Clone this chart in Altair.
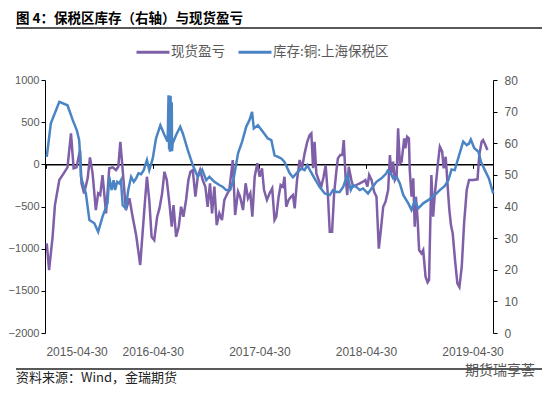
import altair as alt
import pandas as pd

# 库存:铜:上海保税区 (right axis, 万吨)
inv_dates = ["2015-05-03","2015-05-17","2015-06-15","2015-07-13","2015-07-31","2015-08-14","2015-08-22","2015-08-26","2015-08-28","2015-09-14","2015-09-26","2015-10-13","2015-10-26","2015-11-10","2015-11-27","2015-12-03","2015-12-11","2015-12-18","2015-12-23","2015-12-30","2016-01-06","2016-01-12","2016-01-18","2016-01-29","2016-02-06","2016-02-16","2016-02-25","2016-03-04","2016-03-12","2016-03-21","2016-03-30","2016-04-10","2016-04-18","2016-04-30","2016-05-11","2016-05-26","2016-06-09","2016-06-20","2016-06-23","2016-06-25","2016-06-26","2016-06-28","2016-06-30","2016-07-02","2016-07-04","2016-07-05","2016-07-07","2016-07-19","2016-08-02","2016-08-11","2016-08-28","2016-09-14","2016-10-01","2016-10-16","2016-10-30","2016-11-10","2016-11-27","2016-12-14","2016-12-26","2017-01-06","2017-01-20","2017-01-31","2017-02-16","2017-03-02","2017-03-16","2017-03-27","2017-04-05","2017-04-11","2017-04-25","2017-05-12","2017-05-29","2017-06-10","2017-06-21","2017-07-03","2017-07-14","2017-07-25","2017-08-12","2017-08-23","2017-09-09","2017-09-21","2017-10-02","2017-10-11","2017-10-23","2017-11-05","2017-11-22","2017-12-10","2017-12-27","2018-01-07","2018-01-19","2018-01-30","2018-02-11","2018-02-25","2018-03-09","2018-03-17","2018-03-28","2018-04-09","2018-04-20","2018-05-07","2018-05-19","2018-06-05","2018-06-22","2018-07-09","2018-07-13","2018-07-24","2018-08-01","2018-08-13","2018-08-24","2018-09-05","2018-09-22","2018-10-03","2018-10-14","2018-10-26","2018-11-12","2018-11-29","2018-12-22","2019-01-08","2019-01-25","2019-02-06","2019-02-17","2019-02-28","2019-03-14","2019-03-29","2019-04-10","2019-04-18","2019-04-24","2019-05-06","2019-05-20","2019-05-29","2019-06-11","2019-06-25","2019-07-10"]
inv_vals = [55.7,66.3,73.1,72.0,67.3,64.1,61.0,54.7,49.4,44.1,35.7,34.7,32.0,36.8,41.0,49.4,45.2,48.3,45.2,47.8,47.3,48.3,40.4,39.4,45.2,49.4,47.8,48.9,50.5,50.2,51.5,54.7,51.5,55.2,61.5,65.7,62.6,60.5,75.2,58.0,74.5,57.3,75.0,58.0,73.0,57.5,59.9,62.6,65.2,63.1,57.8,53.1,49.4,51.7,48.3,49.4,47.8,46.8,46.2,45.2,45.2,48.3,56.8,60.5,65.2,67.3,69.9,64.7,65.7,63.6,61.5,61.0,56.2,55.7,55.2,54.1,50.5,49.2,51.0,52.0,51.5,53.1,51.0,48.9,46.2,44.1,43.6,45.2,44.6,44.6,46.2,49.9,45.2,46.8,46.2,45.2,45.7,44.1,45.7,47.8,48.9,50.5,51.3,50.5,48.9,49.4,47.3,43.6,41.0,38.9,41.8,39.4,41.0,42.0,43.6,45.2,46.5,48.3,51.7,51.5,55.9,60.5,59.4,59.9,61.2,58.4,57.3,54.1,51.5,48.9,44.1]

# 现货盈亏 (left axis)
pnl_dates = ["2015-05-03","2015-05-11","2015-05-23","2015-05-31","2015-06-15","2015-06-30","2015-07-13","2015-07-25","2015-08-03","2015-08-13","2015-08-25","2015-08-30","2015-09-08","2015-09-20","2015-09-28","2015-10-07","2015-10-18","2015-10-26","2015-11-02","2015-11-10","2015-11-22","2015-12-03","2015-12-15","2015-12-26","2016-01-03","2016-01-10","2016-01-18","2016-01-29","2016-02-10","2016-02-21","2016-03-04","2016-03-18","2016-04-01","2016-04-10","2016-04-18","2016-04-26","2016-05-05","2016-05-15","2016-05-23","2016-06-01","2016-06-09","2016-06-17","2016-06-26","2016-07-04","2016-07-10","2016-07-19","2016-07-28","2016-08-05","2016-08-13","2016-08-22","2016-08-30","2016-09-06","2016-09-14","2016-09-23","2016-10-01","2016-10-09","2016-10-18","2016-10-27","2016-11-04","2016-11-12","2016-11-19","2016-11-27","2016-12-05","2016-12-14","2016-12-23","2016-12-31","2017-01-08","2017-01-17","2017-01-29","2017-02-06","2017-02-16","2017-02-23","2017-03-05","2017-03-14","2017-03-22","2017-03-30","2017-04-06","2017-04-14","2017-04-23","2017-05-01","2017-05-09","2017-05-16","2017-05-26","2017-06-04","2017-06-13","2017-06-21","2017-06-27","2017-07-05","2017-07-12","2017-07-20","2017-07-25","2017-07-31","2017-08-08","2017-08-17","2017-08-23","2017-08-29","2017-09-06","2017-09-15","2017-09-23","2017-10-02","2017-10-11","2017-10-19","2017-10-25","2017-10-31","2017-11-05","2017-11-11","2017-11-19","2017-11-28","2017-12-06","2017-12-13","2017-12-21","2017-12-27","2018-01-04","2018-01-11","2018-01-19","2018-01-24","2018-02-01","2018-02-08","2018-02-13","2018-02-19","2018-02-25","2018-03-02","2018-03-11","2018-03-17","2018-03-28","2018-04-09","2018-04-20","2018-04-28","2018-05-05","2018-05-11","2018-05-19","2018-05-28","2018-06-05","2018-06-13","2018-06-20","2018-06-28","2018-07-06","2018-07-15","2018-07-21","2018-07-26","2018-08-01","2018-08-07","2018-08-13","2018-08-18","2018-08-24","2018-08-30","2018-09-08","2018-09-12","2018-09-18","2018-09-24","2018-09-27","2018-10-03","2018-10-09","2018-10-14","2018-10-18","2018-10-24","2018-10-29","2018-11-06","2018-11-12","2018-11-20","2018-11-27","2018-12-02","2018-12-10","2018-12-16","2018-12-22","2018-12-28","2019-01-02","2019-01-08","2019-01-16","2019-01-21","2019-01-28","2019-02-02","2019-02-09","2019-02-15","2019-02-21","2019-03-01","2019-03-09","2019-03-16","2019-03-24","2019-04-01","2019-04-10","2019-04-18","2019-05-03","2019-05-17","2019-05-23","2019-05-31","2019-06-05","2019-06-13","2019-06-20"]
pnl_vals = [-937,-1254,-859,-483,-186,-107,-36,368,-47,-36,170,-225,-344,-166,83,-107,-542,-344,-364,-127,-581,-47,-36,-68,-28,268,-68,-542,-403,-621,-838,-1194,-542,-147,-423,-859,-898,-621,-522,-344,-88,-186,-463,-740,-483,-859,-740,-503,-621,-423,-186,-88,-68,-384,-147,-68,-186,-265,-503,-225,-581,-265,-720,-581,-661,-423,-364,-305,51,-601,-325,-384,-542,-225,-403,-344,-621,-147,12,-147,-47,-305,-423,-344,-285,-661,-621,-384,-245,-265,-147,-503,-423,-384,-364,-522,-186,51,-47,130,268,347,368,-47,268,-107,-186,-265,-147,-8,-384,-799,-799,-344,-68,71,110,110,288,-147,-364,-28,-186,-265,-245,-225,-206,-186,-265,-127,-186,-325,-384,-1000,-779,-503,-443,-305,110,-107,31,-186,-147,427,12,31,308,190,327,308,-68,-384,-166,-740,-384,-661,-1016,-1056,-1016,-1332,-1400,-1372,-127,-621,-344,-147,31,209,150,-47,90,-166,-522,-720,-818,-1135,-1411,-1455,-1214,-700,-305,-186,-186,-178,110,268,288,229,170]

series_names = ["现货盈亏", "库存:铜:上海保税区"]
series_colors = ["#7E5FA8", "#4A84C4"]
left_ticks = [-2000, -1500, -1000, -500, 0, 500, 1000]
right_ticks = [0, 10, 20, 30, 40, 50, 60, 70, 80]
year_ticks = [2015, 2016, 2017, 2018, 2019]

title_text = "图 4：保税区库存（右轴）与现货盈亏"
source_text = "资料来源：Wind，金瑞期货"
mark_text_wm = "期货瑞享荟"

df_pnl = pd.DataFrame({"date": pnl_dates, "value": pnl_vals, "series": series_names[0]})
df_inv = pd.DataFrame({"date": inv_dates, "value": inv_vals, "series": series_names[1]})

W, H = 448, 253
LFONT = "Liberation Sans"
CJK = "Noto Sans CJK SC"
lab_col = "#595959"

left_dom = [-2000, 1000]
zero_off = -H * (0 - left_dom[0]) / (left_dom[1] - left_dom[0])

x_enc = alt.X(
    "date:T",
    scale=alt.Scale(type="utc",
                    domain=[alt.DateTime(year=2015, month=4, date=27, utc=True),
                            alt.DateTime(year=2019, month=7, date=9, utc=True)]),
    axis=alt.Axis(
        values=[alt.DateTime(year=y, month=4, date=30, utc=True) for y in year_ticks],
        labelExpr="utcFormat(datum.value, '%Y-%m-%d')",
        title=None, grid=False,
        offset=zero_off, tickSize=4, labelPadding=178,
        domainColor="#000000", domainWidth=1.5, tickColor="#000000",
        labelFont=LFONT, labelFontSize=12, labelColor=lab_col,
    ),
)

color_enc = alt.Color(
    "series:N",
    scale=alt.Scale(domain=series_names, range=series_colors),
    legend=alt.Legend(
        orient="none", legendX=90, legendY=-46, direction="horizontal",
        title=None, symbolType="stroke", symbolSize=1089, symbolStrokeWidth=3,
        labelFont=CJK, labelFontSize=13.5, labelColor=lab_col,
        columnPadding=7, labelOffset=0, padding=0,
    ),
)

pnl_line = alt.Chart(df_pnl).mark_line(strokeWidth=2.5).encode(
    x=x_enc,
    y=alt.Y("value:Q", scale=alt.Scale(domain=left_dom, nice=False, zero=False),
            axis=alt.Axis(values=left_ticks, format="d", title=None, grid=False,
                          tickSize=4, labelPadding=2, domainColor="#000000",
                          tickColor="#000000", labelFont=LFONT, labelFontSize=11,
                          labelColor=lab_col)),
    color=color_enc,
)

inv_line = alt.Chart(df_inv).mark_line(strokeWidth=2.5).encode(
    x=x_enc,
    y=alt.Y("value:Q", scale=alt.Scale(domain=[0, 80], nice=False),
            axis=alt.Axis(orient="right", values=right_ticks, format="d", title=None,
                          grid=False, tickSize=4, labelPadding=7, domainColor="#000000",
                          tickColor="#000000", labelFont=LFONT, labelFontSize=12,
                          labelColor=lab_col)),
    color=color_enc,
)

one = pd.DataFrame({"k": [0]})
title_mark = alt.Chart(one).mark_text(
    text=title_text, align="left", baseline="middle", font=CJK,
    fontSize=13.5, fontWeight="bold", color="#000000",
).encode(x=alt.value(-29), y=alt.value(-61))
title_rule = alt.Chart(one).mark_rule(color="#222222", strokeWidth=1.5).encode(
    x=alt.value(-29), x2=alt.value(497), y=alt.value(-52))
bottom_rule = alt.Chart(one).mark_rule(color="#222222", strokeWidth=1.5).encode(
    x=alt.value(-29), x2=alt.value(497), y=alt.value(289))
source_mark = alt.Chart(one).mark_text(
    text=source_text, align="left", baseline="middle", font=CJK,
    fontSize=13, color="#222222",
).encode(x=alt.value(-29), y=alt.value(297.5))
wm_mark = alt.Chart(one).mark_text(
    text=mark_text_wm, align="center", baseline="middle", font=CJK,
    fontSize=14, color="#555555",
).encode(x=alt.value(455), y=alt.value(291))

chart = alt.layer(
    pnl_line, inv_line, title_mark, title_rule, bottom_rule, source_mark, wm_mark
).resolve_scale(y="independent").properties(
    width=W, height=H,
    autosize=alt.AutoSizeParams(type="none"),
    padding={"left": 37, "top": 72, "right": 49, "bottom": 53},
).configure_view(stroke=None)

chart.save("out.html", embed_options={"renderer": "svg", "actions": False})
